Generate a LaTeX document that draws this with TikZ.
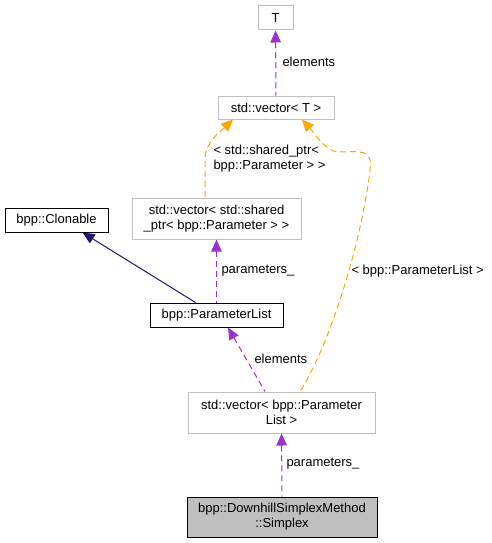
\documentclass[tikz,border=0pt]{standalone}
\usepackage{fontspec}
\setmainfont{Liberation Sans}
\usetikzlibrary{arrows.meta}
\definecolor{membcol}{HTML}{9A32CD}
\definecolor{tmplcol}{HTML}{FFA500}
\definecolor{inhcol}{HTML}{191970}
\definecolor{greycol}{HTML}{BFBFBF}

\begin{document}
\begin{tikzpicture}[
  x=1pt, y=-1pt, line width=1pt,
  cls/.style={rectangle,draw=greycol,fill=white,align=center,inner sep=0pt,font=\fontsize{13}{15}\selectfont},
  bcls/.style={cls,draw=black},
  lbl/.style={anchor=west,align=left,inner sep=0pt,font=\fontsize{13}{15}\selectfont},
  memb/.style={membcol,dash pattern=on 6pt off 4pt,{Triangle[length=12pt,width=10.5pt]}-},
  tmpl/.style={tmplcol,dash pattern=on 6pt off 4pt,{Triangle[length=12pt,width=10.5pt]}-},
  inh/.style={inhcol,{Triangle[length=12pt,width=10.5pt]}-}
]
  \useasboundingbox (0,0) rectangle (491,543);
  \node[cls,minimum width=35pt,minimum height=24pt] (t) at (275.5,18) {T};
  \node[cls,minimum width=116pt,minimum height=23pt] (vt) at (276,107.5) {std::vector< T >};
  \node[cls,minimum width=169pt,minimum height=41pt] (vsp) at (216.5,218.5) {std::vector< std::shared\\\_ptr< bpp::Parameter > >};
  \node[bcls,minimum width=103pt,minimum height=24pt] (clon) at (56.5,220) {bpp::Clonable};
  \node[bcls,minimum width=133pt,minimum height=24pt] (plist) at (216.5,315) {bpp::ParameterList};
  \node[cls,minimum width=187pt,minimum height=41pt] (vpl) at (281.5,412.5) {std::vector< bpp::Parameter\\List >};
  \node[bcls,fill=greycol,minimum width=190pt,minimum height=40pt] (simplex) at (282,517) {bpp::DownhillSimplexMethod\\::Simplex};

  \draw[memb] (t) -- (vt);
  \node[lbl] (l1) at (282,62) {elements};
  \draw[tmpl] ([xshift=-43pt]vt.south) .. controls (220,132) and (205,142) .. (205,160) -- ([xshift=-11.5pt]vsp.north);
  \node[lbl] (l2) at (213,159) {< std::shared\_ptr<\\bpp::Parameter > >};
  \draw[tmpl] ([xshift=26pt]vt.south) .. controls (315,134) and (325,150) .. (337,152)
    .. controls (360,152) and (373,148) .. (370,170)
    .. controls (362,240) and (330,345) .. ([xshift=18.5pt]vpl.north);
  \node[lbl] (l3) at (351,271) {< bpp::ParameterList >};
  \draw[inh] ([xshift=26pt]clon.south) -- ([xshift=-21pt]plist.north);
  \draw[memb] (vsp) -- (plist);
  \node[lbl] (l4) at (221,271) {parameters\_};
  \draw[memb] ([xshift=11.5pt]plist.south) -- ([xshift=-16.5pt]vpl.north);
  \node[lbl] (l5) at (254,359) {elements};
  \draw[memb] (vpl) -- (simplex);
  \node[lbl] (l6) at (286,464) {parameters\_};
\end{tikzpicture}
\end{document}
